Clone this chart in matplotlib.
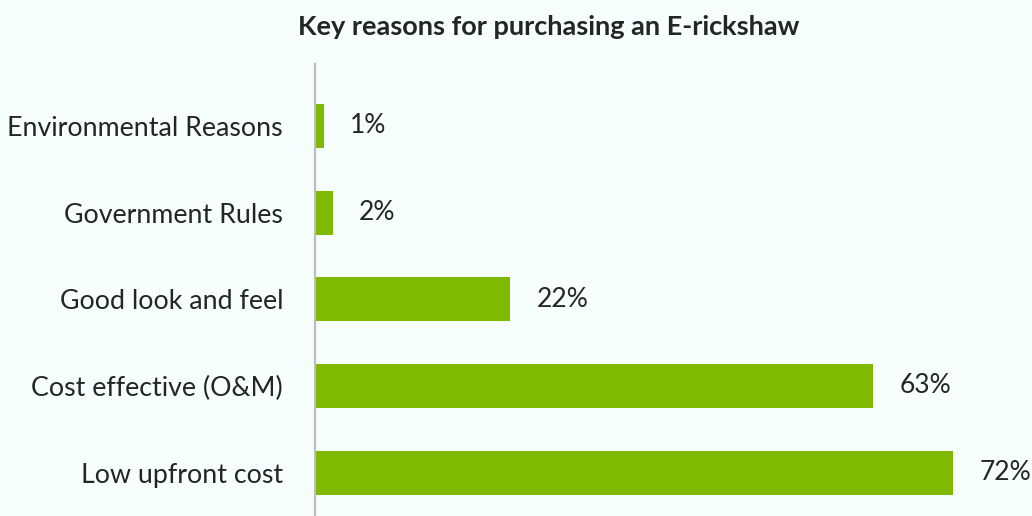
import matplotlib
matplotlib.use("Agg")
import matplotlib.pyplot as plt

# Survey results: share of respondents citing each reason
reasons = [
    "Low upfront cost",
    "Cost effective (O&M)",
    "Good look and feel",
    "Government Rules",
    "Environmental Reasons",
]
shares = [72, 63, 22, 2, 1]
value_labels = ["72%", "63%", "22%", "2%", "1%"]
title = "Key reasons for purchasing an E-rickshaw"

bg = "#F6FEFE"
bar_color = "#7FBA00"
text_color = "#252525"

plt.rcParams["font.family"] = ["Lato", "DejaVu Sans"]

fig = plt.figure(figsize=(10.32, 5.16), dpi=100, facecolor=bg)
ax = fig.add_axes([315 / 1032, 0, 1 - 315 / 1032, (516 - 64) / 516])
ax.set_facecolor(bg)

pos = list(range(len(reasons)))
bars = ax.barh(pos, shares, height=0.51, color=bar_color)

for rect, lab in zip(bars, value_labels):
    ax.annotate(lab, xy=(rect.get_width(), rect.get_y() + rect.get_height() / 2),
                xytext=(19, 0), textcoords="offset points",
                ha="left", va="center", fontsize=19, color=text_color)

ax.set_xlim(0, 80.9)
ax.set_ylim(-0.5, 4.715)
ax.set_yticks(pos)
ax.set_yticklabels(reasons, fontsize=19.3, color=text_color)
ax.tick_params(axis="y", length=0, pad=23)
ax.set_xticks([])

for side in ("top", "right", "bottom"):
    ax.spines[side].set_visible(False)
ax.spines["left"].set_color("#BDBDBD")
ax.spines["left"].set_linewidth(1.6)

fig.text(549 / 1032, 1 - 27 / 516, title, ha="center", va="center",
         fontsize=19.5, fontweight="bold", color=text_color)

fig.savefig("out.png", dpi=100, facecolor=bg)
